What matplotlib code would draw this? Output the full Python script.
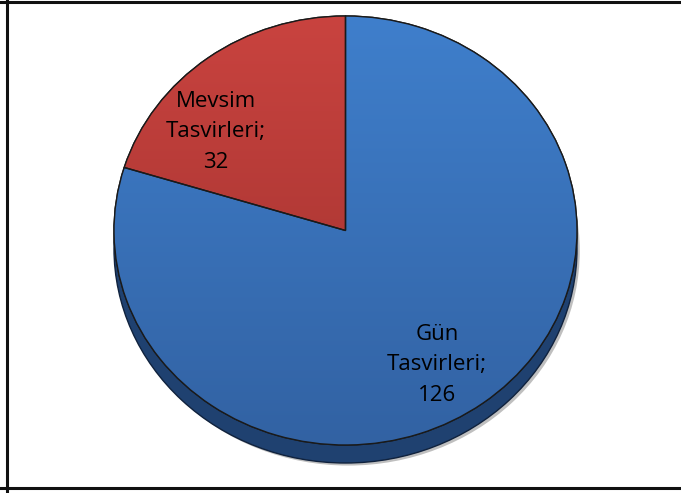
import numpy as np
import matplotlib.pyplot as plt
from matplotlib.patches import Ellipse, Rectangle, Wedge
import matplotlib.colors as mcolors

labels = ['Gün\nTasvirleri;\n126', 'Mevsim\nTasvirleri;\n32']
values = [126, 32]
top_colors = [('#3F7FCC', '#3262A3'), ('#C9433F', '#9C302D')]

W, H = 681, 493
cx, cy = 345.5, 230.5      # pie centre in pixels (from top-left)
rx, ry = 231.5, 214.5      # pie radii in pixels
depth = 18 / ry            # side thickness in pie units

fig = plt.figure(figsize=(W / 100, H / 100), dpi=100)
ax = fig.add_axes([0, 0, 1, 1])

# soft shadow + side of the "3d" disc
ax.add_patch(Ellipse((0.012, -depth - 0.012), 2.0, 2.0, facecolor='#000000',
                     alpha=0.25, edgecolor='none', zorder=1))
ax.add_patch(Ellipse((0, -depth), 2.0, 2.0, facecolor='#1F4170',
                     edgecolor='#10223d', lw=1.0, zorder=2))
ax.add_patch(Rectangle((-1, -depth), 2.0, depth, facecolor='#1F4170',
                       edgecolor='none', zorder=2))

wedges, _ = ax.pie(values, startangle=90, counterclock=False, radius=1.0,
                   center=(0, 0), frame=True,
                   wedgeprops=dict(edgecolor='#1a1a1a', linewidth=1.0))
ax.set_aspect('auto')

# vertical gradient inside each wedge
grad = np.linspace(1, 0, 256).reshape(-1, 1)
for w, (c_top, c_bot) in zip(wedges, top_colors):
    w.set_facecolor(c_top)
    w.set_zorder(3)
    cmap = mcolors.LinearSegmentedColormap.from_list('g', [c_bot, c_top])
    im = ax.imshow(grad, cmap=cmap, extent=[-1, 1, -1, 1], aspect='auto',
                   origin='upper', zorder=3.5)
    im.set_clip_path(w)
    ax.add_patch(Wedge(w.center, w.r, w.theta1, w.theta2, facecolor='none',
                       edgecolor='#1a1a1a', lw=1.0, zorder=4))

ax.set_xlim(-cx / rx, (W - cx) / rx)
ax.set_ylim(-(H - cy) / ry, cy / ry)
ax.axis('off')

# data labels
fnt = dict(family=['Open Sans', 'DejaVu Sans'], fontsize=16, color='#000000',
           ha='center', va='center', linespacing=1.6, zorder=6)
ax.text((437 - cx) / rx, (cy - 365) / ry, labels[0], **fnt)
ax.text((216 - cx) / rx, (cy - 132) / ry, labels[1], **fnt)

# chart border
fig.add_artist(plt.Line2D([7 / W, 7 / W], [0, 1], color='#111111', lw=2.2))
fig.add_artist(plt.Line2D([0, 1], [1 - 1.5 / H, 1 - 1.5 / H], color='#111111', lw=2.2))
fig.add_artist(plt.Line2D([0, 1], [1 - 488 / H, 1 - 488 / H], color='#111111', lw=2.2))

fig.savefig('out.png', dpi=100, facecolor='white')
